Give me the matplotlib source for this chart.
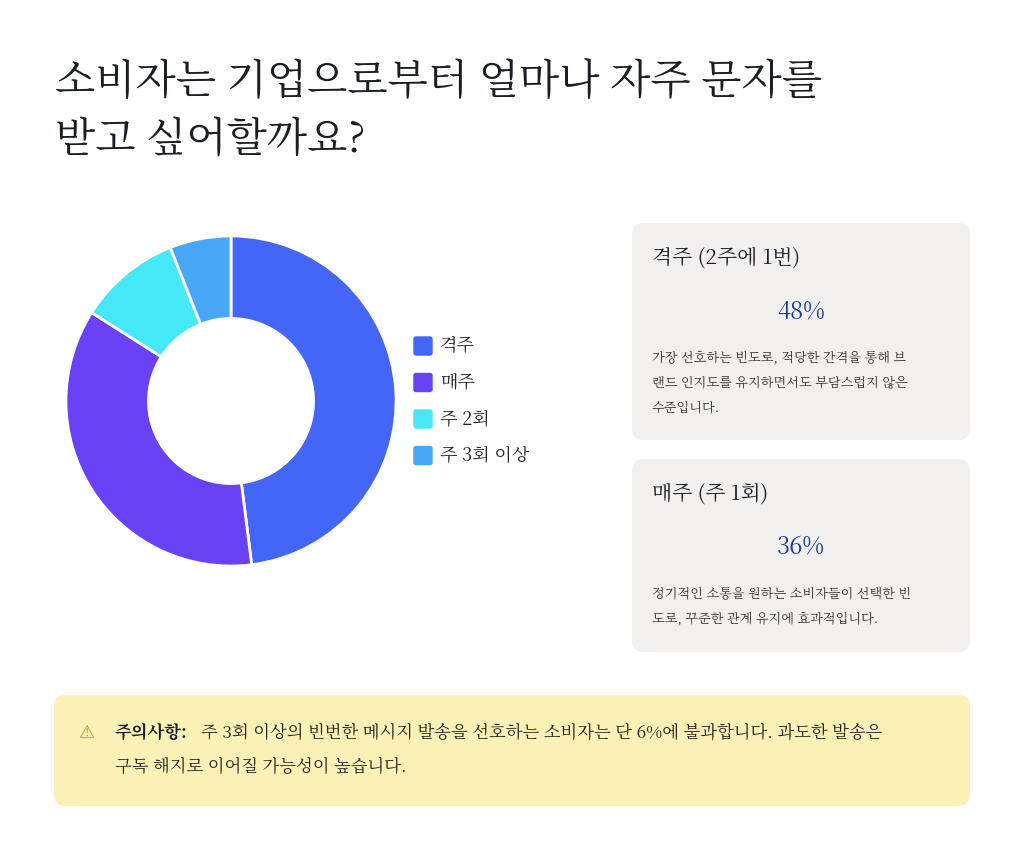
import matplotlib
matplotlib.use("Agg")
import matplotlib.pyplot as plt
from matplotlib import font_manager as fm
from matplotlib.patches import FancyBboxPatch

cjk = [f.name for f in fm.fontManager.ttflist if "CJK" in f.name]
pref = [n for n in cjk if "KR" in n] or cjk
plt.rcParams["font.family"] = [pref[0] if pref else "Noto Sans CJK KR", "DejaVu Sans"]

categories = ["격주", "매주", "주 2회", "주 3회 이상"]
values = [48, 36, 10, 6]
colors = ["#4466F6", "#6A42F6", "#46E8F8", "#49A7F8"]

title_lines = ["소비자는 기업으로부터 얼마나 자주 문자를", "받고 싶어할까요?"]
card_titles = ["격주 (2주에 1번)", "매주 (주 1회)"]
card_pcts = ["48%", "36%"]
card_texts = [["가장 선호하는 빈도로, 적당한 간격을 통해 브", "랜드 인지도를 유지하면서도 부담스럽지 않은", "수준입니다."],
              ["정기적인 소통을 원하는 소비자들이 선택한 빈", "도로, 꾸준한 관계 유지에 효과적입니다."]]
note_bold = "주의사항:"
note_lines = ["주 3회 이상의 빈번한 메시지 발송을 선호하는 소비자는 단 6%에 불과합니다. 과도한 발송은",
              "구독 해지로 이어질 가능성이 높습니다."]

W, H = 1024, 860
fig = plt.figure(figsize=(W/100, H/100), dpi=100)
bg = fig.add_axes([0, 0, 1, 1])
bg.set_xlim(0, W); bg.set_ylim(H, 0); bg.axis("off")

bg.text(55, 82, title_lines[0], fontsize=30, color="#1a1d24", va="center")
bg.text(55, 140, title_lines[1], fontsize=30, color="#1a1d24", va="center")

ax = fig.add_axes([(231-170)/W, (H-401-170)/H, 340/W, 340/H])
ax.pie(values, colors=colors, startangle=90, counterclock=False,
       wedgeprops=dict(width=0.5, edgecolor="white", linewidth=2))
ax.set_xlim(-1.03, 1.03); ax.set_ylim(-1.03, 1.03); ax.set_aspect("equal")

for i, (c, col) in enumerate(zip(categories, colors)):
    y = 346 + i*36.5
    bg.add_patch(FancyBboxPatch((414, y-9), 18, 18, boxstyle="round,pad=0,rounding_size=2", color=col))
    bg.text(440, y, c, fontsize=13, color="#222", va="center")

cards = [(223, 440), (459, 652)]
for k, (y0, y1) in enumerate(cards):
    bg.add_patch(FancyBboxPatch((632, y0), 338, y1-y0, boxstyle="round,pad=0,rounding_size=12",
                                color="#F2F0EF", ec="none"))
    bg.text(652, y0+35, card_titles[k], fontsize=15, color="#1a1d24", va="center")
    bg.text(801, y0+88, card_pcts[k], fontsize=17, color="#1d3a9a", va="center", ha="center")
    for j, line in enumerate(card_texts[k]):
        bg.text(652, y0+134+j*25, line, fontsize=9.5, color="#333", va="center")

bg.add_patch(FancyBboxPatch((54, 695), 916, 111, boxstyle="round,pad=0,rounding_size=12",
                            color="#FBF1B6", ec="none"))
bg.text(86, 733, "\u26a0", fontsize=13, color="#B89A10", va="center", ha="center", family="DejaVu Sans")
bg.text(115, 733, note_bold, fontsize=12.5, fontweight="bold", color="#1a1d24", va="center")
bg.text(201, 733, note_lines[0], fontsize=12.5, color="#222", va="center")
bg.text(115, 767, note_lines[1], fontsize=12.5, color="#222", va="center")

fig.savefig("out.png", dpi=100, facecolor="white")
